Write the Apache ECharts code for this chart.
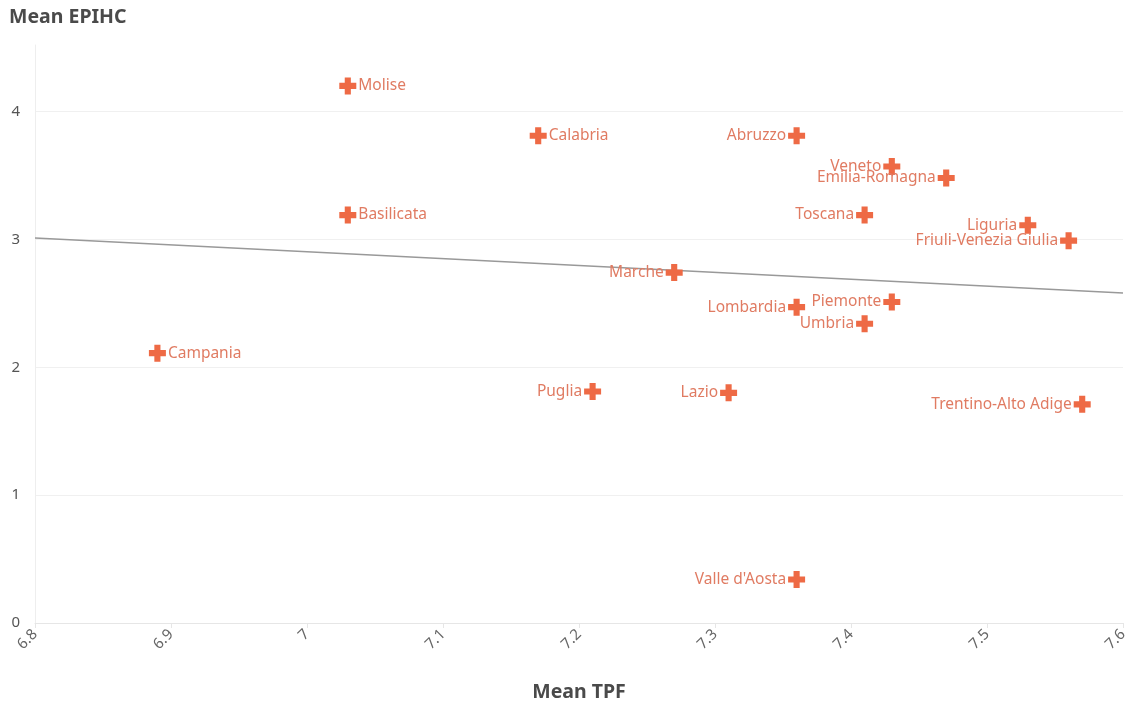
<!DOCTYPE html>
<html><head><meta charset="utf-8">
<script src="https://cdn.jsdelivr.net/npm/echarts@6/dist/echarts.min.js"></script>
<style>html,body{margin:0;padding:0;background:#fff}#c{width:1145px;height:723px}</style>
</head><body><div id="c"></div>
<script>
const regions = ["Molise","Calabria","Abruzzo","Veneto","Emilia-Romagna","Toscana","Basilicata","Liguria","Friuli-Venezia Giulia","Marche","Lombardia","Piemonte","Umbria","Campania","Puglia","Lazio","Trentino-Alto Adige","Valle d'Aosta"];
const tpf = [7.03,7.17,7.36,7.43,7.47,7.41,7.03,7.53,7.56,7.27,7.36,7.43,7.41,6.89,7.21,7.31,7.57,7.36];
const epihc = [4.2,3.81,3.81,3.57,3.48,3.19,3.19,3.11,2.99,2.74,2.47,2.51,2.34,2.11,1.81,1.80,1.71,0.34];
const labelRight = ["Molise","Calabria","Basilicata","Campania"];
const trendX = [6.8, 7.6];
const trendY = [3.01, 2.58];

const chart = echarts.init(document.getElementById('c'));
const font = "'Noto Sans', sans-serif";
const pts = regions.map((r,i)=>({
  value:[tpf[i],epihc[i]], name:r,
  label:{position: labelRight.includes(r)?'right':'left'}
}));
chart.setOption({
  animation:false,
  grid:{left:35,right:22,top:45,bottom:100},
  xAxis:{type:'value',min:6.8,max:7.6,interval:0.1,
    name:'Mean TPF',nameLocation:'middle',nameGap:59,
    nameTextStyle:{fontFamily:font,fontWeight:'bold',fontSize:19.5,color:'#4a4a4a'},
    axisLine:{show:true,lineStyle:{color:'#e6e6e6'}},
    axisTick:{show:true,length:5,lineStyle:{color:'#e6e6e6'}},
    splitLine:{show:false},
    axisLabel:{rotate:45,fontFamily:font,fontSize:15,color:'#666',margin:9,
      formatter:v=>String(+v.toFixed(1))}
  },
  yAxis:{type:'value',min:0,max:4.52,interval:1,
    axisLine:{show:true,lineStyle:{color:'#eeeeee'}},
    axisTick:{show:false},
    splitLine:{show:true,showMaxLine:false,lineStyle:{color:'#f0f0f0'}},
    axisLabel:{showMaxLabel:false,fontFamily:font,fontSize:15,color:'#555',margin:15}
  },
  graphic:[{type:'text',left:9,top:7,style:{text:'Mean EPIHC',font:"bold 19.5px 'Noto Sans', sans-serif",fill:'#4a4a4a'}}],
  series:[
    {type:'line',data:trendX.map((x,i)=>[x,trendY[i]]),symbol:'none',
     lineStyle:{color:'#999',width:1.5},silent:true,z:1},
    {type:'scatter',data:pts,
     symbol:'path://M3.2,0 H6.8 V3.2 H10 V6.8 H6.8 V10 H3.2 V6.8 H0 V3.2 H3.2 Z',
     symbolSize:17,itemStyle:{color:'#ee6a45',opacity:1},z:3,
     label:{show:true,formatter:'{b}',fontFamily:font,fontSize:15.5,color:'#e07b62',distance:2}}
  ]
});
</script></body></html>
